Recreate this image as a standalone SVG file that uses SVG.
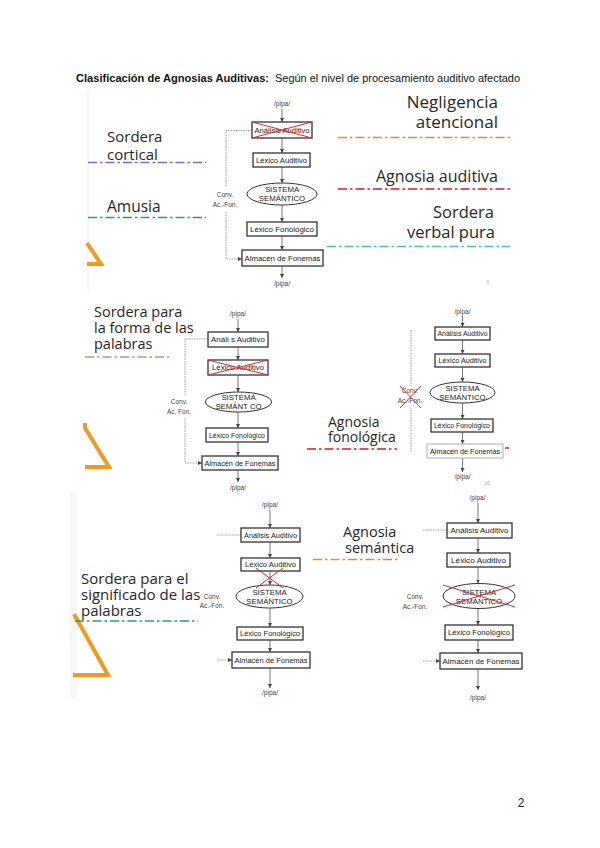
<svg xmlns="http://www.w3.org/2000/svg" width="600" height="848" viewBox="0 0 600 848">
<style>
.box{fill:#fff;stroke:#333;stroke-width:1.3}
.ell{fill:#fff;stroke:#333;stroke-width:1}
.bt{font-family:"Liberation Sans",Arial,sans-serif;font-size:7px;fill:#222;text-anchor:middle}
.et{font-family:"Liberation Sans",Arial,sans-serif;font-size:7.8px;fill:#222;text-anchor:middle}
.sm{font-family:"Liberation Sans",Arial,sans-serif;font-size:6.5px;fill:#444;text-anchor:middle}
.num{font-family:"Liberation Sans",Arial,sans-serif;font-size:5px;fill:#aaa;text-anchor:middle}
.conn{stroke:#555;stroke-width:0.8;fill:none}
.dot{stroke:#777;stroke-width:0.7;fill:none;stroke-dasharray:1.5 1}
.lbl{font-family:"Open Sans","Liberation Sans",sans-serif;fill:#262626}
.dd{fill:none;stroke-width:1.6;stroke-dasharray:9 3 2.5 3}
.x{stroke:#d8283a;stroke-width:1;fill:none}
.tri{fill:none;stroke:#f39a1e;stroke-width:4;stroke-linejoin:miter}
</style>
<defs>
<marker id="ah" viewBox="0 0 6 6" refX="6" refY="3" markerWidth="4" markerHeight="4" markerUnits="userSpaceOnUse" orient="auto"><path d="M0,0 L6,3 L0,6 z" fill="#444"/></marker>
</defs>
<rect width="600" height="848" fill="#fff"/>

<!-- Title -->
<g id="title">
<text x="76" y="82" font-family="Liberation Sans,Arial,sans-serif" font-size="10.5" font-weight="bold" fill="#111" textLength="193" lengthAdjust="spacingAndGlyphs">Clasificación de Agnosias Auditivas:</text>
<text x="275" y="82" font-family="Liberation Sans,Arial,sans-serif" font-size="10.5" fill="#111" textLength="245" lengthAdjust="spacingAndGlyphs">Según el nivel de procesamiento auditivo afectado</text>
</g>

<!-- Panel decorations -->
<g id="decor">
<line x1="88" y1="90" x2="88" y2="290" stroke="#ececec" stroke-width="1"/>
<rect x="70" y="492" width="6" height="206" fill="#f6f6f6"/>
<polyline class="tri" points="87,243 101,264 87,264"/>
<polyline class="tri" points="85,423 85,428 109,467 85,467"/>
<polyline class="tri" points="74,614 108,675 73,675"/>
<text class="num" x="488" y="284">6</text>
<text class="num" x="487" y="485">16</text>
</g>

<!-- Connectors -->
<g id="connectors">
<!-- panel 1 -->
<line class="conn" x1="282" y1="109" x2="282" y2="122" marker-end="url(#ah)"/>
<line class="conn" x1="282" y1="138" x2="282" y2="153" marker-end="url(#ah)"/>
<line class="conn" x1="282" y1="167" x2="282" y2="183" marker-end="url(#ah)"/>
<line class="conn" x1="282" y1="205" x2="282" y2="222" marker-end="url(#ah)"/>
<line class="conn" x1="282" y1="236" x2="282" y2="250" marker-end="url(#ah)"/>
<line class="conn" x1="282" y1="266" x2="282" y2="278" marker-end="url(#ah)"/>
<path class="dot" d="M252,130.5 H226 V187"/>
<path class="dot" d="M226,212 V259 H242" marker-end="url(#ah)"/>
<!-- panel 2 left -->
<line class="conn" x1="238" y1="319" x2="238" y2="332" marker-end="url(#ah)"/>
<line class="conn" x1="238" y1="347" x2="238" y2="360" marker-end="url(#ah)"/>
<line class="conn" x1="238" y1="375" x2="238" y2="392" marker-end="url(#ah)"/>
<line class="conn" x1="238" y1="412" x2="238" y2="428" marker-end="url(#ah)"/>
<line class="conn" x1="238" y1="442" x2="238" y2="456" marker-end="url(#ah)"/>
<line class="conn" x1="238" y1="470" x2="238" y2="482" marker-end="url(#ah)"/>
<path class="dot" d="M208,339 H185 V396"/>
<path class="dot" d="M185,418 V463 H202" marker-end="url(#ah)"/>
<!-- panel 2 right -->
<line class="conn" x1="462.5" y1="316" x2="462.5" y2="327" marker-end="url(#ah)"/>
<line class="conn" x1="462.5" y1="340" x2="462.5" y2="354" marker-end="url(#ah)"/>
<line class="conn" x1="462.5" y1="367" x2="462.5" y2="382" marker-end="url(#ah)"/>
<line class="conn" x1="462.5" y1="403" x2="462.5" y2="419" marker-end="url(#ah)"/>
<line class="conn" x1="462.5" y1="432" x2="462.5" y2="444" marker-end="url(#ah)"/>
<line class="conn" x1="462.5" y1="458" x2="462.5" y2="472" marker-end="url(#ah)"/>
<line class="dot" x1="411" y1="330" x2="411" y2="452"/>
<!-- panel 3 left -->
<line class="conn" x1="270" y1="510" x2="270" y2="528" marker-end="url(#ah)"/>
<line class="conn" x1="270" y1="542" x2="270" y2="558" marker-end="url(#ah)"/>
<line class="conn" x1="270" y1="571" x2="270" y2="585" marker-end="url(#ah)"/>
<line class="conn" x1="270" y1="608" x2="270" y2="627" marker-end="url(#ah)"/>
<line class="conn" x1="270" y1="640" x2="270" y2="652" marker-end="url(#ah)"/>
<line class="conn" x1="270" y1="668" x2="270" y2="688" marker-end="url(#ah)"/>
<line class="dot" x1="217" y1="535" x2="241" y2="535"/>
<line class="dot" x1="217" y1="660" x2="232" y2="660" marker-end="url(#ah)"/>
<!-- panel 3 right -->
<line class="conn" x1="478" y1="503" x2="478" y2="523" marker-end="url(#ah)"/>
<line class="conn" x1="478" y1="538" x2="478" y2="553" marker-end="url(#ah)"/>
<line class="conn" x1="478" y1="567" x2="478" y2="583.5" marker-end="url(#ah)"/>
<line class="conn" x1="478" y1="608.5" x2="478" y2="625" marker-end="url(#ah)"/>
<line class="conn" x1="478" y1="640" x2="478" y2="653" marker-end="url(#ah)"/>
<line class="conn" x1="478" y1="669" x2="478" y2="690" marker-end="url(#ah)"/>
<line class="dot" x1="423" y1="530" x2="447" y2="530"/>
<line class="dot" x1="423" y1="661" x2="440" y2="661" marker-end="url(#ah)"/>
</g>

<!-- Panel 1 nodes -->
<g id="p1-in"><text class="sm" x="282" y="106">/pipa/</text></g>
<g id="p1-analisis"><rect class="box" x="252" y="122" width="60" height="16"/><text class="bt" x="282" y="132.5" textLength="55" lengthAdjust="spacingAndGlyphs">Análisis Auditivo</text>
<path class="x" d="M252,122 L312,138 M252,138 L312,122"/></g>
<g id="p1-lexaud"><rect class="box" x="253" y="153" width="57" height="14"/><text class="bt" x="281.5" y="162.5" textLength="51" lengthAdjust="spacingAndGlyphs">Léxico Auditivo</text></g>
<g id="p1-sem"><ellipse class="ell" cx="282" cy="194" rx="35" ry="11"/><text class="et" x="282" y="192"><tspan x="282">SISTEMA</tspan><tspan x="282" dy="9">SEMÁNTICO</tspan></text></g>
<g id="p1-lexfon"><rect class="box" x="247" y="222" width="70" height="14"/><text class="bt" x="282" y="231.5" textLength="64" lengthAdjust="spacingAndGlyphs">Léxico Fonológico</text></g>
<g id="p1-almacen"><rect class="box" x="242" y="250" width="81" height="16"/><text class="bt" x="282.5" y="260.5" textLength="76" lengthAdjust="spacingAndGlyphs">Almacén de Fonemas</text></g>
<g id="p1-out"><text class="sm" x="282" y="286">/pipa/</text></g>
<g id="p1-conv"><text class="sm" x="225" y="197"><tspan x="225">Conv.</tspan><tspan x="225" dy="10">Ac.-Fon.</tspan></text></g>

<g id="p1-labels">
<text class="lbl" x="107" y="142" font-size="15"><tspan x="107">Sordera</tspan><tspan x="107" dy="18">cortical</tspan></text>
<line class="dd" x1="88" y1="162.5" x2="206" y2="162.5" stroke="#8a62d8"/>
<text class="lbl" x="107" y="212" font-size="15.5">Amusia</text>
<line class="dd" x1="88" y1="217.5" x2="206" y2="217.5" stroke="#27a262"/>
<text class="lbl" x="498" y="108" font-size="17" text-anchor="end"><tspan x="498">Negligencia</tspan><tspan x="498" dy="20">atencional</tspan></text>
<line class="dd" x1="338" y1="137.5" x2="512" y2="137.5" stroke="#e8882c"/>
<text class="lbl" x="498" y="182" font-size="16" text-anchor="end">Agnosia auditiva</text>
<line class="dd" x1="338" y1="189" x2="510" y2="189" stroke="#c8202c"/>
<text class="lbl" x="494" y="218" font-size="16.5" text-anchor="end"><tspan x="494">Sordera</tspan><tspan x="495" dy="20">verbal pura</tspan></text>
<line class="dd" x1="327" y1="246.5" x2="510" y2="246.5" stroke="#3cc4b4"/>
</g>

<!-- Panel 2 left nodes -->
<g id="p2a-in"><text class="sm" x="238" y="316">/pipa/</text></g>
<g id="p2a-analisis"><rect class="box" x="208" y="332" width="60" height="15"/><text class="bt" x="238" y="342" textLength="54" lengthAdjust="spacingAndGlyphs">Análi s Auditivo</text></g>
<g id="p2a-lexaud"><rect class="box" x="208" y="360" width="60" height="15"/><text class="bt" x="238" y="370" textLength="52" lengthAdjust="spacingAndGlyphs">Léxico Auditivo</text>
<path class="x" d="M208,360 L268,375 M208,375 L268,360"/></g>
<g id="p2a-sem"><ellipse class="ell" cx="238.5" cy="402" rx="33" ry="10"/><text class="et" x="238.5" y="400"><tspan x="238.5">SISTEMA</tspan><tspan x="238.5" dy="8.5">SEMÁNT CO</tspan></text></g>
<g id="p2a-lexfon"><rect class="box" x="206" y="428" width="62" height="14"/><text class="bt" x="237" y="437.5" textLength="56" lengthAdjust="spacingAndGlyphs">Léxico Fonológico</text></g>
<g id="p2a-almacen"><rect class="box" x="202" y="456" width="76" height="14"/><text class="bt" x="240" y="465.5" textLength="71" lengthAdjust="spacingAndGlyphs">Almacén de Fonemas</text></g>
<g id="p2a-out"><text class="sm" x="238" y="490">/pipa/</text></g>
<g id="p2a-conv"><text class="sm" x="179" y="404"><tspan x="179">Conv.</tspan><tspan x="179" dy="10">Ac. Fon.</tspan></text></g>
<g id="p2a-labels">
<text class="lbl" x="94" y="317" font-size="14.5"><tspan x="94">Sordera para</tspan><tspan x="94" dy="16">la forma de las</tspan><tspan x="94" dy="16">palabras</tspan></text>
<line class="dd" x1="85" y1="357" x2="172" y2="357" stroke="#a98fdc"/>
</g>

<!-- Panel 2 right nodes -->
<g id="p2b-in"><text class="sm" x="462.5" y="313.5">/pipa/</text></g>
<g id="p2b-analisis"><rect class="box" x="435" y="327" width="55" height="13"/><text class="bt" x="462.5" y="336" textLength="50" lengthAdjust="spacingAndGlyphs">Análisis Auditivo</text></g>
<g id="p2b-lexaud"><rect class="box" x="435" y="354" width="55" height="13"/><text class="bt" x="462.5" y="363" textLength="48" lengthAdjust="spacingAndGlyphs">Léxico Auditivo</text></g>
<g id="p2b-sem"><ellipse class="ell" cx="462.5" cy="392.5" rx="32.5" ry="10.5"/><text class="et" x="462.5" y="391"><tspan x="462.5">SISTEMA</tspan><tspan x="462.5" dy="8.5">SEMÁNTICO</tspan></text></g>
<g id="p2b-lexfon"><rect class="box" x="431" y="419" width="62" height="13"/><text class="bt" x="462" y="428" textLength="56" lengthAdjust="spacingAndGlyphs">Léxico Fonológico</text></g>
<g id="p2b-almacen"><rect x="427" y="444" width="76" height="14" fill="#fff" stroke="#999" stroke-width="0.8"/><text class="bt" x="465" y="453.5" textLength="70" lengthAdjust="spacingAndGlyphs">Almacén de Fonemas</text></g>
<g id="p2b-out"><text class="sm" x="462.5" y="479">/pipa/</text></g>
<g id="p2b-conv"><rect x="400" y="386" width="21" height="21" fill="#fff"/><text class="sm" x="410" y="393"><tspan x="410">Conv.</tspan><tspan x="410" dy="10">Ac.-Fon.</tspan></text>
<path class="x" d="M400,386 L421,408 M400,408 L421,386"/></g>
<g id="p2b-labels">
<text class="lbl" x="328" y="427" font-size="14"><tspan x="328">Agnosia</tspan><tspan x="328" dy="15">fonológica</tspan></text>
<line class="dd" x1="307" y1="449" x2="397" y2="449" stroke="#c8202c"/>
<line x1="505" y1="448" x2="509" y2="448" stroke="#c8202c" stroke-width="1.4"/>
</g>

<!-- Panel 3 left nodes -->
<g id="p3a-in"><text class="sm" x="270" y="507">/pipa/</text></g>
<g id="p3a-analisis"><rect class="box" x="241" y="528" width="59" height="14"/><text class="bt" x="270.5" y="537.5" textLength="53" lengthAdjust="spacingAndGlyphs">Análisis Auditivo</text></g>
<g id="p3a-lexaud"><rect class="box" x="241" y="558" width="59" height="13"/><text class="bt" x="270.5" y="567" textLength="51" lengthAdjust="spacingAndGlyphs">Léxico Auditivo</text></g>
<g id="p3a-sem"><ellipse class="ell" cx="269.5" cy="596.5" rx="33.5" ry="11.5"/><text class="et" x="269.5" y="595"><tspan x="269.5">SISTEMA</tspan><tspan x="269.5" dy="8.5">SEMÁNTICO</tspan></text></g>
<g id="p3a-cross"><path class="x" d="M256,568 L283,588 M283,568 L256,588"/></g>
<g id="p3a-lexfon"><rect class="box" x="237" y="627" width="66" height="13"/><text class="bt" x="270" y="636" textLength="60" lengthAdjust="spacingAndGlyphs">Léxico Fonológico</text></g>
<g id="p3a-almacen"><rect class="box" x="232" y="652" width="78" height="16"/><text class="bt" x="271" y="662.5" textLength="73" lengthAdjust="spacingAndGlyphs">Almacén de Fonemas</text></g>
<g id="p3a-out"><text class="sm" x="270" y="695">/pipa/</text></g>
<g id="p3a-conv"><text class="sm" x="212" y="599"><tspan x="212">Conv.</tspan><tspan x="212" dy="9">Ac.-Fon.</tspan></text></g>
<g id="p3a-labels">
<text class="lbl" x="81" y="584" font-size="15"><tspan x="81">Sordera para el</tspan><tspan x="81" dy="16">significado de las</tspan><tspan x="81" dy="16">palabras</tspan></text>
<line class="dd" x1="75" y1="621" x2="198" y2="621" stroke="#27a262"/>
</g>

<!-- Panel 3 right nodes -->
<g id="p3b-in"><text class="sm" x="477.5" y="500">/pipa/</text></g>
<g id="p3b-analisis"><rect class="box" x="447" y="523" width="65" height="15"/><text class="bt" x="479.5" y="533" textLength="58" lengthAdjust="spacingAndGlyphs">Análisis Auditivo</text></g>
<g id="p3b-lexaud"><rect class="box" x="447" y="553" width="63" height="14"/><text class="bt" x="478.5" y="562.5" textLength="55" lengthAdjust="spacingAndGlyphs">Léxico Auditivo</text></g>
<g id="p3b-sem"><ellipse class="ell" cx="479" cy="596" rx="36" ry="12.5"/><text class="et" x="479" y="594.5"><tspan x="479">SISTEMA</tspan><tspan x="479" dy="9">SEMÁNTICO</tspan></text>
<path class="x" d="M443,585 L515,607 M443,607 L515,585"/></g>
<g id="p3b-lexfon"><rect class="box" x="445" y="625" width="68" height="15"/><text class="bt" x="479" y="635" textLength="62" lengthAdjust="spacingAndGlyphs">Léxico Fonológico</text></g>
<g id="p3b-almacen"><rect class="box" x="440" y="653" width="82" height="16"/><text class="bt" x="481" y="664" textLength="77" lengthAdjust="spacingAndGlyphs">Almacén de Fonemas</text></g>
<g id="p3b-out"><text class="sm" x="478" y="700">/pipa/</text></g>
<g id="p3b-conv"><text class="sm" x="415" y="599"><tspan x="415">Conv.</tspan><tspan x="415" dy="10">Ac.-Fon.</tspan></text></g>
<g id="p3b-labels">
<text class="lbl" x="343" y="537" font-size="14.5"><tspan x="343">Agnosia</tspan><tspan x="345" dy="16">semántica</tspan></text>
<line class="dd" x1="313" y1="559.5" x2="400" y2="559.5" stroke="#e8882c"/>
</g>

<g id="page"><text x="521" y="807" font-family="Liberation Sans,Arial,sans-serif" font-size="12" fill="#222" text-anchor="middle">2</text></g>
</svg>
